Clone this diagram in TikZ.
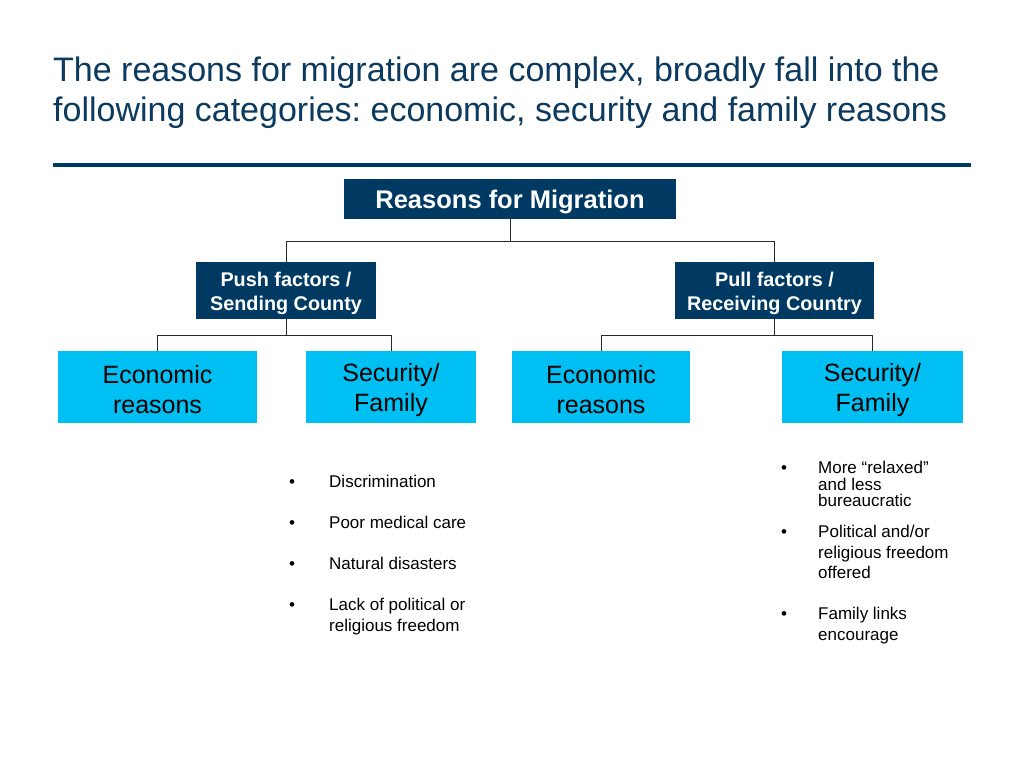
\documentclass[tikz,border=0pt]{standalone}
\usepackage{fontspec}
\setmainfont{Liberation Sans}
\frenchspacing
\definecolor{navy}{RGB}{0,58,99}
\definecolor{titlecol}{RGB}{12,58,95}
\definecolor{cyanbox}{RGB}{0,191,243}
\definecolor{linecol}{RGB}{40,40,40}
\begin{document}
\begin{tikzpicture}[x=1pt,y=-1pt,
  darkbox/.style={fill=navy,draw=none,inner sep=0pt},
  darktext/.style={text=white,align=center,inner sep=0pt},
  lightbox/.style={fill=cyanbox,draw=none,inner sep=0pt,minimum height=72pt},
  lighttext/.style={text=black,align=center,inner sep=0pt,font=\fontsize{25}{30}\selectfont},
  conn/.style={draw=linecol,line width=0.9pt},
  bl/.style={anchor=base west,inner sep=0pt,font=\fontsize{17}{20}\selectfont,text=black},
  titletext/.style={anchor=base west,inner sep=0pt,font=\fontsize{34}{40}\selectfont,text=titlecol}]
\useasboundingbox (0,0) rectangle (1024,768);
\fill[white] (0,0) rectangle (1024,768);
% title
\node[titletext] (t1) at (53,81.5) {The reasons for migration are complex, broadly fall into the};
\node[titletext] (t2) at (53,121) {following categories: economic, security and family reasons};
\draw[navy,line width=3.5pt] (53,165) -- (971,165);
% boxes
\node[darkbox,minimum width=332pt,minimum height=40pt] (top) at (510,199) {};
\node[darktext,font=\bfseries\fontsize{25.5}{30}\selectfont] (topt) at ([yshift=-2.5pt]top.center) {Reasons for Migration};
\node[darkbox,minimum width=180pt,minimum height=57pt] (push) at (286,290.5) {};
\node[darktext,font=\bfseries\fontsize{19.8}{24}\selectfont] (pusht) at ([yshift=-3pt]push.center) {Push factors /\\Sending County};
\node[darkbox,minimum width=199pt,minimum height=57pt] (pull) at (774.5,290.5) {};
\node[darktext,font=\bfseries\fontsize{19.8}{24}\selectfont] (pullt) at ([yshift=-3pt]pull.center) {Pull factors /\\Receiving Country};
\node[lightbox,minimum width=199pt] (e1) at (157.5,387) {};
\node[lighttext] (e1t) at ([yshift=-2.5pt]e1.center) {Economic\\reasons};
\node[lightbox,minimum width=170pt] (s1) at (391,387) {};
\node[lighttext] (s1t) at ([yshift=-3pt]s1.center) {Security/\\Family};
\node[lightbox,minimum width=178pt] (e2) at (601,387) {};
\node[lighttext] (e2t) at ([yshift=-2.5pt]e2.center) {Economic\\reasons};
\node[lightbox,minimum width=181pt] (s2) at (872.5,387) {};
\node[lighttext] (s2t) at ([yshift=-3pt]s2.center) {Security/\\Family};
% connectors
\draw[conn] (top.south) -- ++(0,22) -| (push.north);
\draw[conn] (top.south) -- ++(0,22) -| (pull.north);
\draw[conn] (push.south) -- ++(0,16) -| (e1.north);
\draw[conn] (push.south) -- ++(0,16) -| (s1.north);
\draw[conn] (pull.south) -- ++(0,16) -| (e2.north);
\draw[conn] (pull.south) -- ++(0,16) -| (s2.north);
% left bullets
\node[bl] (lb1) at (289,487) {•};
\node[bl] (l1) at (329,487) {Discrimination};
\node[bl] (lb2) at (289,528) {•};
\node[bl] (l2) at (329,528) {Poor medical care};
\node[bl] (lb3) at (289,569) {•};
\node[bl] (l3) at (329,569) {Natural disasters};
\node[bl] (lb4) at (289,610) {•};
\node[bl] (l4a) at (329,610) {Lack of political or};
\node[bl] (l4b) at (329,631) {religious freedom};
% right bullets
\node[bl] (rb1) at (781,473) {•};
\node[bl] (r1a) at (818,473) {More “relaxed”};
\node[bl] (r1b) at (818,490) {and less};
\node[bl] (r1c) at (818,506) {bureaucratic};
\node[bl] (rb2) at (781,537) {•};
\node[bl] (r2a) at (818,537) {Political and/or};
\node[bl] (r2b) at (818,558) {religious freedom};
\node[bl] (r2c) at (818,578) {offered};
\node[bl] (rb3) at (781,619) {•};
\node[bl] (r3a) at (818,619) {Family links};
\node[bl] (r3b) at (818,640) {encourage};
\end{tikzpicture}
\end{document}
